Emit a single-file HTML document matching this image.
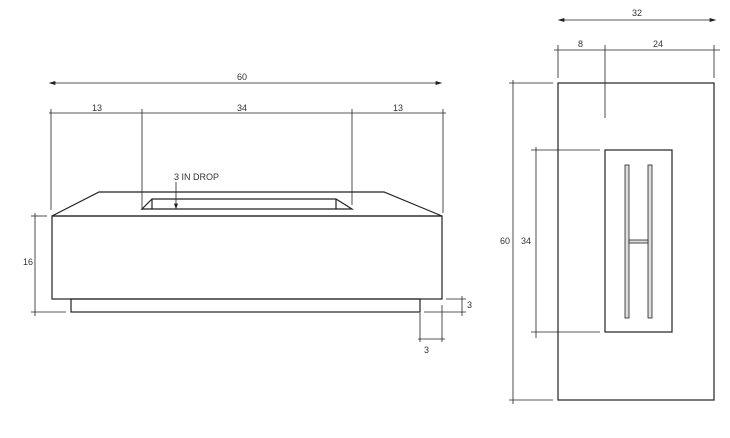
<!DOCTYPE html>
<html><head><style>
html,body{margin:0;padding:0;background:#fff;}
svg{display:block;}
text{font-family:"Liberation Sans",sans-serif;font-size:9px;fill:#333;}
</style></head><body>
<svg width="730" height="438" viewBox="0 0 730 438" xmlns="http://www.w3.org/2000/svg">
<g stroke="#222" fill="none" stroke-width="0.8">
<!-- front view dims -->
<line x1="50" y1="83" x2="441" y2="83"/>
<path d="M50 83 l5 -1.5 v3 z M441 83 l-5 -1.5 v3 z" fill="#222"/>
<line x1="49" y1="113" x2="446" y2="113"/>
<line x1="51" y1="109" x2="51" y2="210"/>
<line x1="142" y1="109" x2="142" y2="210"/>
<line x1="352" y1="109" x2="352" y2="205"/>
<line x1="443" y1="109" x2="443" y2="213"/>
<!-- body -->
<g stroke-width="1.2">
<polygon points="52,216 99,192 384,192 442,216"/>
<rect x="52" y="216" width="390" height="83"/>
<rect x="71" y="299" width="349" height="13"/>
<polygon points="142,209 152,199 336,199 352,209"/>
<line x1="152" y1="199" x2="152" y2="209"/>
<line x1="336" y1="199" x2="336" y2="209"/>
</g>
<line x1="176" y1="182" x2="176" y2="206"/>
<path d="M176 208 l-1.5 -4 h3 z" fill="#222"/>
<!-- 16 -->
<line x1="35" y1="213" x2="35" y2="316"/>
<line x1="31" y1="216" x2="47" y2="216"/>
<line x1="31" y1="312" x2="66" y2="312"/>
<!-- 3 right -->
<line x1="462" y1="296" x2="462" y2="316"/>
<line x1="446" y1="299" x2="466" y2="299"/>
<line x1="424" y1="312" x2="466" y2="312"/>
<!-- 3 bottom -->
<line x1="418" y1="339" x2="445" y2="339"/>
<line x1="420" y1="313" x2="420" y2="342"/>
<line x1="442" y1="305" x2="442" y2="342"/>
<!-- top view -->
<line x1="559" y1="20" x2="715" y2="20"/>
<path d="M559 20 l5 -1.5 v3 z M715 20 l-5 -1.5 v3 z" fill="#222"/>
<line x1="554" y1="50" x2="720" y2="50"/>
<line x1="558" y1="45" x2="558" y2="78"/>
<line x1="605" y1="45" x2="605" y2="118"/>
<line x1="714" y1="45" x2="714" y2="78"/>
<g stroke-width="1.2">
<rect x="558" y="83" width="156" height="317"/>
<rect x="605" y="150" width="67" height="182"/>
</g>
<line x1="513" y1="80" x2="513" y2="404"/>
<line x1="509" y1="83" x2="553" y2="83"/>
<line x1="509" y1="400" x2="553" y2="400"/>
<line x1="536" y1="147" x2="536" y2="338"/>
<line x1="531" y1="150" x2="600" y2="150"/>
<line x1="531" y1="332" x2="600" y2="332"/>
<rect x="625" y="165" width="4" height="153" fill="#ddd"/>
<rect x="648" y="165" width="4" height="153" fill="#ddd"/>
<rect x="629" y="240" width="19" height="3" fill="#ddd"/>
</g>
<text x="237" y="80">60</text>
<text x="92" y="111">13</text>
<text x="237" y="111">34</text>
<text x="393" y="111">13</text>
<text x="174" y="180">3 IN DROP</text>
<text x="23" y="265">16</text>
<text x="467" y="308">3</text>
<text x="424" y="353">3</text>
<text x="632" y="16">32</text>
<text x="578" y="47">8</text>
<text x="653" y="47">24</text>
<text x="500" y="244">60</text>
<text x="521" y="244">34</text>
</svg>
</body></html>
